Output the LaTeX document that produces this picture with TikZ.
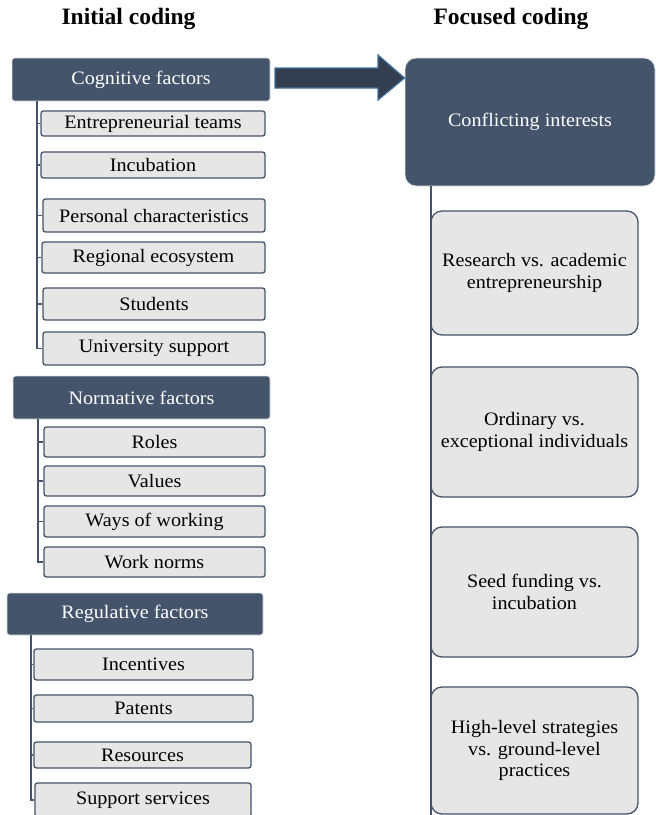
\documentclass[tikz,border=0pt]{standalone}
\usepackage{fontspec}
\setmainfont{Liberation Serif}[FakeStretch=1.06]
\newfontfamily\headfont{Liberation Serif}
\usetikzlibrary{calc}
\definecolor{darkbox}{HTML}{44546A}
\definecolor{lightbox}{HTML}{E7E6E6}
\definecolor{arrowfill}{HTML}{333F50}
\definecolor{arrowline}{HTML}{41719C}
\tikzset{
  darkstyle/.style={fill=darkbox, draw=black!12, line width=0.8pt, rounded corners=2.5pt, text=white, font=\fontsize{19}{21.5}\selectfont, align=center, inner sep=0pt},
  itemstyle/.style={fill=lightbox, draw=darkbox, line width=1.3pt, rounded corners=2.5pt, text=black, font=\fontsize{19}{21.5}\selectfont, align=center, inner sep=0pt},
  bigstyle/.style={itemstyle, rounded corners=11pt},
  bigdark/.style={darkstyle, rounded corners=11pt},
  link/.style={draw=darkbox, line width=1.4pt},
  headstyle/.style={font=\headfont\bfseries\fontsize{23.5}{26}\selectfont, inner sep=0pt}
}
\newcommand\bx[7]{\node[#2, minimum width={(#5-#3)*1pt}, minimum height={(#6-#4)*1pt}] (#1) at ({(#3+#5)/2},{(#4+#6)/2}) {#7};}
\begin{document}
\begin{tikzpicture}[x=1pt,y=-1pt]
\useasboundingbox (0,0) rectangle (656,815);
% headers
\node[headstyle] (h1) at (128.5,19) {Initial coding};
\node[headstyle] (h2) at (511,19) {Focused coding};
% left column connector tops
\coordinate (l1top) at (37,101);
\coordinate (l2top) at (38,419);
\coordinate (l3top) at (31,635);
% boxes
\bx{cog}{darkstyle}{12}{58}{270}{101}{Cognitive factors}
\bx{et}{itemstyle}{41}{111}{265}{136}{Entrepreneurial teams}
\bx{inc}{itemstyle}{41}{152}{265}{178}{Incubation}
\bx{pc}{itemstyle}{43}{199}{265}{232}{Personal characteristics}
\bx{reg}{itemstyle}{42}{242}{265}{273}{Regional ecosystem}
\bx{stu}{itemstyle}{43}{288}{265}{320}{Students}
\bx{uni}{itemstyle}{43}{332}{265}{365}{University support}
\bx{nor}{darkstyle}{13}{376}{270}{419}{Normative factors}
\bx{rol}{itemstyle}{44}{427}{265}{457}{Roles}
\bx{val}{itemstyle}{44}{466}{265}{496}{Values}
\bx{way}{itemstyle}{44}{506}{265}{537}{Ways of working}
\bx{wno}{itemstyle}{44}{547}{265}{577}{Work norms}
\bx{rgf}{darkstyle}{7}{593}{263}{635}{Regulative factors}
\bx{ince}{itemstyle}{34}{649}{253}{680}{Incentives}
\bx{pat}{itemstyle}{34}{695}{253}{722}{Patents}
\bx{res}{itemstyle}{34}{742}{251}{768}{Resources}
\bx{sup}{itemstyle}{35}{783}{251}{817}{Support services}
% right column
\bx{con}{bigdark}{405}{58}{655}{186}{Conflicting interests}
\bx{r1}{bigstyle}{431}{211}{638}{335}{Research vs. academic\\entrepreneurship}
\bx{r2}{bigstyle}{431}{367}{638}{497}{Ordinary vs.\\exceptional individuals}
\bx{r3}{bigstyle}{431}{527}{638}{657}{Seed funding vs.\\incubation}
\bx{r4}{bigstyle}{431}{687}{638}{814}{High-level strategies\\vs. ground-level\\practices}
% left connectors
\draw[link] (l1top) |- (uni.west);
\foreach \n in {et,inc,pc,reg,stu} \draw[link] (l1top |- \n.west) -- (\n.west);
\draw[link] (l2top) |- (wno.west);
\foreach \n in {rol,val,way} \draw[link] (l2top |- \n.west) -- (\n.west);
\draw[link] (l3top) |- (sup.west);
\foreach \n in {ince,pat,res} \draw[link] (l3top |- \n.west) -- (\n.west);
% right connector
\coordinate (rtop) at (431,186);
\coordinate (rbot) at (431,815);
\draw[link] (rtop) -- (rbot);
% block arrow
\coordinate (abody) at (275,68);
\draw[fill=arrowfill, draw=arrowline, line width=1.2pt, line join=miter]
  (abody) -- (378,68) -- (378,55) -- (con.west |- 0,78) -- (378,100) -- (378,88) -- (abody |- 0,88) -- cycle;
\end{tikzpicture}
\end{document}
